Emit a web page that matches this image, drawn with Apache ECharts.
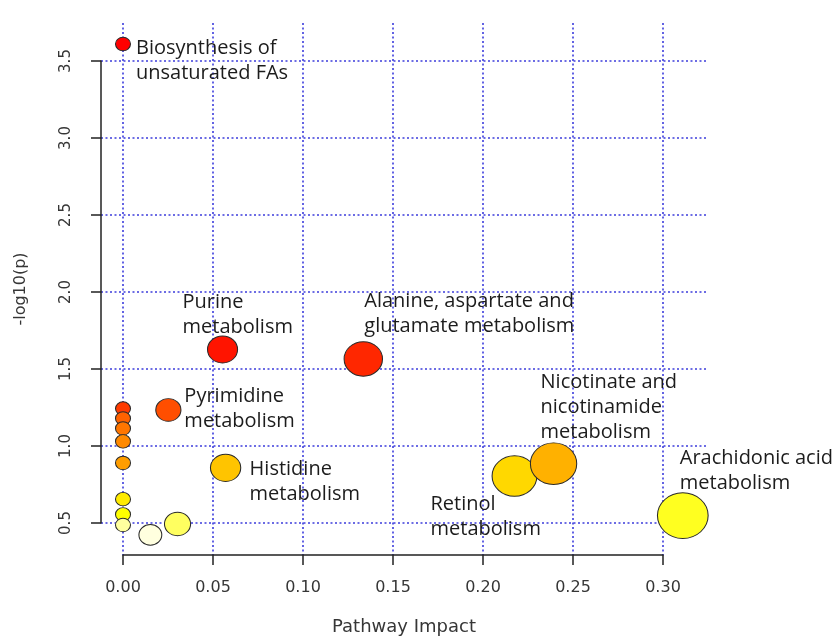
<!DOCTYPE html>
<html>
<head>
<meta charset="utf-8">
<script src="https://cdn.jsdelivr.net/npm/echarts@6/dist/echarts.min.js"></script>
<style>
html,body{margin:0;padding:0;background:#ffffff;}
#chart{width:839px;height:637px;}
</style>
</head>
<body>
<div id="chart"></div>
<script>
// ---------------- data ----------------
const pathwayLabels = [
  "Biosynthesis of\nunsaturated FAs",
  "", "", "", "", "", "", "", "",
  "", "",
  "Pyrimidine\nmetabolism",
  "Purine\nmetabolism",
  "Histidine\nmetabolism",
  "Alanine, aspartate and\nglutamate metabolism",
  "Retinol\nmetabolism",
  "Nicotinate and\nnicotinamide\nmetabolism",
  "Arachidonic acid\nmetabolism"
];
const pathwayImpact = [0.000, 0.000, 0.000, 0.000, 0.000, 0.000, 0.000, 0.000, 0.000,
                       0.0152, 0.0303, 0.0252, 0.0553, 0.0570, 0.1335, 0.2175, 0.2392, 0.3110];
const negLog10P     = [3.610, 1.243, 1.179, 1.114, 1.030, 0.890, 0.655, 0.556, 0.487,
                       0.423, 0.494, 1.234, 1.627, 0.858, 1.565, 0.805, 0.885, 0.548];
const xTickLabels = ["0.00", "0.05", "0.10", "0.15", "0.20", "0.25", "0.30"];
const yTickLabels = ["0.5", "1.0", "1.5", "2.0", "2.5", "3.0", "3.5"];

// ---------------- layout (pixels) ----------------
const LAY = {tickLeft: 123, tickRight: 663, tickBottom: 523, tickTop: 61,
             boxLeft: 101, boxRight: 707, boxTop: 23, boxBottom: 555, W: 839, H: 637};
// label placement relative to bubble centre [dx, dy]
const labelOffsets = {
  0: [13, 17], 11: [16, -1], 12: [-40, -35], 13: [24, 14],
  14: [1, -45], 15: [-84, 41], 16: [-13, -56], 17: [-3, -45]
};

const xT = xTickLabels.map(Number), yT = yTickLabels.map(Number);
const xMinT = xT[0], xMaxT = xT[xT.length - 1], yMinT = yT[0], yMaxT = yT[yT.length - 1];
const xPerPx = (xMaxT - xMinT) / (LAY.tickRight - LAY.tickLeft);
const yPerPx = (yMaxT - yMinT) / (LAY.tickBottom - LAY.tickTop);
const xMinBox = xMinT - (LAY.tickLeft - LAY.boxLeft) * xPerPx;
const xMaxBox = xMaxT + (LAY.boxRight - LAY.tickRight) * xPerPx;
const yMinBox = yMinT - (LAY.boxBottom - LAY.tickBottom) * yPerPx;
const yMaxBox = yMaxT + (LAY.tickTop - LAY.boxTop) * yPerPx;

// R's heat.colors(n), assigned by rank of -log10(p)
function heatColors(n) {
  const j = Math.floor(n / 4), i = n - j, cols = [];
  const hex = v => ('0' + Math.round(v).toString(16)).slice(-2);
  for (let k = 0; k < i; k++) {
    const h = i > 1 ? (k / (i - 1)) / 6 : 0;
    cols.push('#ff' + hex(255 * h * 6) + '00');
  }
  for (let k = 0; k < j; k++) {
    const s = (1 - 1 / (2 * j)) - (j > 1 ? k * (1 - 1 / j) / (j - 1) : 0);
    cols.push('#ffff' + hex(255 * (1 - s)));
  }
  return cols;
}
const palette = heatColors(negLog10P.length);
const order = negLog10P.map((v, i) => i).sort((a, b) => negLog10P[b] - negLog10P[a]);
const pointColor = [];
order.forEach((idx, r) => { pointColor[idx] = palette[r]; });

const seriesData = pathwayImpact.map((x, i) => {
  const item = {value: [x, negLog10P[i]], name: pathwayLabels[i]};
  if (pathwayLabels[i]) {
    item.label = {show: true, formatter: pathwayLabels[i], offset: labelOffsets[i] || [10, 0]};
  }
  return item;
});

const axisText = {fontFamily: 'DejaVu Sans', color: '#363636'};
const chart = echarts.init(document.getElementById('chart'), null, {renderer: 'canvas'});
chart.setOption({
  backgroundColor: '#ffffff',
  animation: false,
  grid: [
    {left: LAY.tickLeft, right: LAY.W - LAY.tickRight, top: LAY.tickTop, bottom: LAY.H - LAY.tickBottom, containLabel: false, outerBoundsMode: 'none'},
    {left: LAY.boxLeft, right: LAY.W - LAY.boxRight, top: LAY.boxTop, bottom: LAY.H - LAY.boxBottom, containLabel: false, outerBoundsMode: 'none'}
  ],
  xAxis: [
    {type: 'value', gridIndex: 0, min: xMinT, max: xMaxT, interval: xT[1] - xT[0], offset: LAY.boxBottom - LAY.tickBottom,
     axisLine: {show: true, onZero: false, lineStyle: {color: '#222', width: 1.5}},
     axisTick: {show: true, length: 10, lineStyle: {color: '#222', width: 1.5}},
     axisLabel: Object.assign({fontSize: 16, margin: 25, formatter: v => xTickLabels[Math.round((v - xMinT) / (xT[1] - xT[0]))]}, axisText),
     splitLine: {show: false}},
    {type: 'value', gridIndex: 1, min: xMinBox, max: xMaxBox,
     axisLine: {show: false, onZero: false}, axisTick: {show: false}, axisLabel: {show: false},
     splitLine: {show: true, showMinLine: false, showMaxLine: false, lineStyle: {color: '#3c3cdc', width: 1.6, type: [2, 2.5]}},
     name: 'Pathway Impact', nameLocation: 'middle', nameGap: 63,
     nameTextStyle: Object.assign({fontSize: 18}, axisText)}
  ],
  yAxis: [
    {type: 'value', gridIndex: 0, min: yMinT, max: yMaxT, interval: yT[1] - yT[0], offset: LAY.tickLeft - LAY.boxLeft,
     axisLine: {show: true, onZero: false, lineStyle: {color: '#222', width: 1.5}},
     axisTick: {show: true, length: 10, lineStyle: {color: '#222', width: 1.5}},
     axisLabel: Object.assign({fontSize: 15, margin: 27, rotate: 90, formatter: v => yTickLabels[Math.round((v - yMinT) / (yT[1] - yT[0]))]}, axisText),
     splitLine: {show: false}},
    {type: 'value', gridIndex: 1, min: yMinBox, max: yMaxBox,
     axisLine: {show: false, onZero: false}, axisTick: {show: false}, axisLabel: {show: false},
     splitLine: {show: true, showMinLine: false, showMaxLine: false, lineStyle: {color: '#3c3cdc', width: 1.6, type: [2, 2.5]}},
     name: '-log10(p)', nameLocation: 'middle', nameGap: 72,
     nameTextStyle: Object.assign({fontSize: 16}, axisText)}
  ],
  series: [{
    type: 'scatter',
    xAxisIndex: 1, yAxisIndex: 1,
    clip: false,
    data: seriesData,
    symbol: 'circle',
    symbolSize: val => { const w = 15 + 64 * Math.sqrt(val[0]); return [w, w * 0.9]; },
    itemStyle: {color: p => pointColor[p.dataIndex], borderColor: '#2a2a2a', borderWidth: 1, opacity: 1},
    label: {show: false, position: 'inside', align: 'left', verticalAlign: 'middle',
            fontFamily: 'Open Sans', fontSize: 20, lineHeight: 25, color: '#1c1c1c',
            textBorderWidth: 0},
    emphasis: {disabled: true}
  }]
});
</script>
</body>
</html>
